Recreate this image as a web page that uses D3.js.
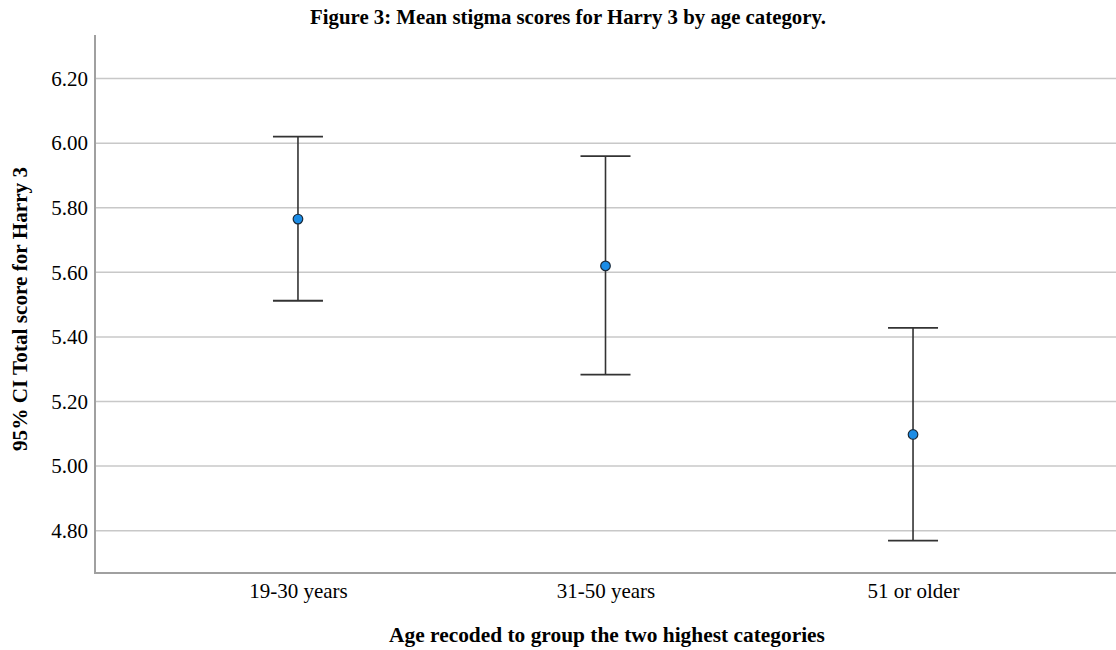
<!DOCTYPE html>
<html><head><meta charset="utf-8">
<script src="https://cdn.jsdelivr.net/npm/d3@7"></script>
<style>body{margin:0;background:#fff}svg{display:block}text{font-family:"Liberation Serif","Times New Roman",serif;fill:#000}</style>
</head><body>
<script>
const categories = ["19-30 years", "31-50 years", "51 or older"];
const means = [5.765, 5.620, 5.098];
const lower = [5.512, 5.283, 4.769];
const upper = [6.020, 5.960, 5.428];
const yTicks = [4.80, 5.00, 5.20, 5.40, 5.60, 5.80, 6.00, 6.20];

(function () {
const W = 1116, H = 650;
const mLeft = 95, mRight = 1116, mTop = 35, mBottom = 573;
const svg = d3.select("body").append("svg").attr("width", W).attr("height", H);

const x = d3.scalePoint().domain(categories).range([mLeft, mRight]).padding(0.66);
const y = d3.scaleLinear().domain([4.669, 6.335]).range([mBottom, mTop]);

// gridlines
svg.append("g").selectAll("line").data(yTicks).join("line")
  .attr("x1", mLeft).attr("x2", mRight)
  .attr("y1", d => y(d)).attr("y2", d => y(d))
  .attr("stroke", "#c8c8c8").attr("stroke-width", 1.5);

// y axis
const yAxis = svg.append("g").attr("transform", `translate(${mLeft},0)`)
  .call(d3.axisLeft(y).tickValues(yTicks).tickFormat(d3.format(".2f")).tickSize(0).tickPadding(7));
yAxis.select(".domain").remove();
yAxis.selectAll("text").style("font-size", "21px").style("font-family", '"Liberation Serif",serif').attr("fill", "#000");

// x axis
const xAxis = svg.append("g").attr("transform", `translate(0,${mBottom})`)
  .call(d3.axisBottom(x).tickSize(0).tickPadding(10));
xAxis.select(".domain").remove();
xAxis.selectAll("text").style("font-size", "21px").style("font-family", '"Liberation Serif",serif').attr("fill", "#000");

// axis lines
svg.append("line").attr("x1", mLeft).attr("x2", mLeft).attr("y1", mTop).attr("y2", mBottom + 1)
  .attr("stroke", "#a0a0a0").attr("stroke-width", 2);
svg.append("line").attr("x1", mLeft).attr("x2", mRight).attr("y1", mBottom).attr("y2", mBottom)
  .attr("stroke", "#a0a0a0").attr("stroke-width", 2);

// error bars
const data = categories.map((c, i) => ({c, m: means[i], lo: lower[i], hi: upper[i]}));
const capW = 25;
const eb = svg.append("g");
eb.selectAll(".v").data(data).join("line")
  .attr("x1", d => x(d.c)).attr("x2", d => x(d.c))
  .attr("y1", d => y(d.hi)).attr("y2", d => y(d.lo))
  .attr("stroke", "#333").attr("stroke-width", 1.6);
eb.selectAll(".t").data(data).join("line")
  .attr("x1", d => x(d.c) - capW).attr("x2", d => x(d.c) + capW)
  .attr("y1", d => y(d.hi)).attr("y2", d => y(d.hi))
  .attr("stroke", "#333").attr("stroke-width", 1.8);
eb.selectAll(".b").data(data).join("line")
  .attr("x1", d => x(d.c) - capW).attr("x2", d => x(d.c) + capW)
  .attr("y1", d => y(d.lo)).attr("y2", d => y(d.lo))
  .attr("stroke", "#333").attr("stroke-width", 1.8);
eb.selectAll("circle").data(data).join("circle")
  .attr("cx", d => x(d.c)).attr("cy", d => y(d.m)).attr("r", 4.8)
  .attr("fill", "#1a8ce6").attr("stroke", "#1a2a3a").attr("stroke-width", 1.2);

// titles
svg.append("text").attr("x", 568).attr("y", 24).attr("text-anchor", "middle")
  .style("font-size", "20.8px").style("font-weight", "bold")
  .text("Figure 3: Mean stigma scores for Harry 3 by age category.");
svg.append("text").attr("x", 607).attr("y", 642).attr("text-anchor", "middle")
  .style("font-size", "21.4px").style("font-weight", "bold")
  .text("Age recoded to group the two highest categories");
svg.append("text").attr("transform", "translate(27,309) rotate(-90)").attr("text-anchor", "middle")
  .style("font-size", "21.2px").style("font-weight", "bold")
  .text("95% CI Total score for Harry 3");
})();
</script>
</body></html>
